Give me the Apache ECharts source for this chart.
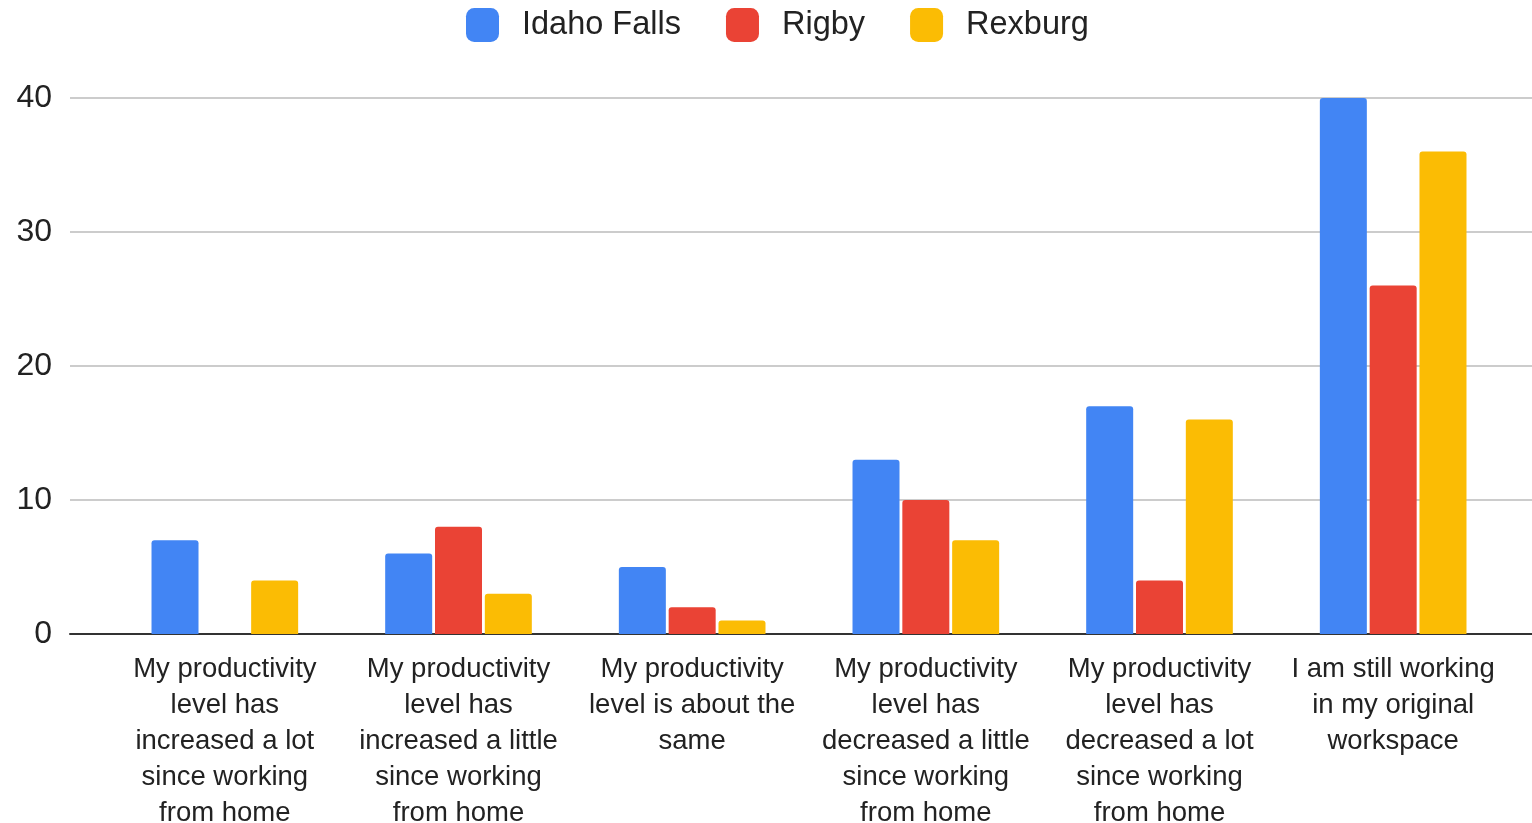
<!DOCTYPE html>
<html>
<head>
<meta charset="utf-8">
<script src="https://cdn.jsdelivr.net/npm/echarts@6/dist/echarts.min.js"></script>
<style>
  html, body { margin: 0; padding: 0; background: #fff; }
  #chart { width: 1532px; height: 823px; }
</style>
</head>
<body>
<div id="chart"></div>
<script>
// categories (answers) and values
const categories = [
  'My productivity\nlevel has\nincreased a lot\nsince working\nfrom home',
  'My productivity\nlevel has\nincreased a little\nsince working\nfrom home',
  'My productivity\nlevel is about the\nsame',
  'My productivity\nlevel has\ndecreased a little\nsince working\nfrom home',
  'My productivity\nlevel has\ndecreased a lot\nsince working\nfrom home',
  'I am still working\nin my original\nworkspace'
]
const idahoFalls = [7, 6, 5, 13, 17, 40]
const rigby = [0, 8, 2, 10, 4, 26]
const rexburg = [4, 3, 1, 7, 16, 36]
const yTicks = { min: 0, max: 40, interval: 10 }

const FONT = '"Liberation Sans", Arial, sans-serif'

const chart = echarts.init(document.getElementById('chart'))

function bar (name, data, color) {
  return {
    name: name,
    type: 'bar',
    xAxisIndex: 1,
    yAxisIndex: 1,
    data: data,
    barWidth: 47,
    barGap: '6%',
    itemStyle: { color: color, borderRadius: [3, 3, 0, 0] }
  }
}

chart.setOption({
  animation: false,
  textStyle: { fontFamily: FONT },
  legend: {
    top: 8,
    left: 466,
    padding: 0,
    itemWidth: 33,
    itemHeight: 34,
    itemGap: 45,
    icon: 'roundRect',
    textStyle: { fontSize: 32.5, color: '#222', fontFamily: FONT, padding: [0, 0, 0, 18] },
    data: ['Idaho Falls', 'Rigby', 'Rexburg']
  },
  grid: [
    // full width grid for the gridlines, the labels and the baseline
    { left: 70, right: 0, top: 98, bottom: 189, outerBoundsMode: 'none' },
    // inner grid for the bars, padded like the original
    { left: 108, right: 22, top: 98, bottom: 189, outerBoundsMode: 'none' }
  ],
  xAxis: [
    {
      gridIndex: 0,
      type: 'category',
      data: [''],
      axisLine: { lineStyle: { color: '#333', width: 2 } },
      axisTick: { show: false },
      axisLabel: { show: false }
    },
    {
      gridIndex: 1,
      type: 'category',
      data: categories,
      axisLine: { show: false },
      axisTick: { show: false },
      axisLabel: {
        interval: 0,
        margin: 17,
        fontSize: 27.5,
        lineHeight: 36,
        color: '#222',
        fontFamily: FONT,
        align: 'center'
      }
    }
  ],
  yAxis: [
    {
      gridIndex: 0,
      type: 'value',
      min: yTicks.min,
      max: yTicks.max,
      interval: yTicks.interval,
      axisLine: { show: false },
      axisTick: { show: false },
      axisLabel: { fontSize: 32, color: '#222', margin: 18, fontFamily: FONT },
      splitLine: { lineStyle: { color: '#ccc', width: 2 } }
    },
    {
      gridIndex: 1,
      type: 'value',
      min: yTicks.min,
      max: yTicks.max,
      interval: yTicks.interval,
      show: false,
      splitLine: { show: false }
    }
  ],
  series: [
    bar('Idaho Falls', idahoFalls, '#4285F4'),
    bar('Rigby', rigby, '#EA4335'),
    bar('Rexburg', rexburg, '#FBBC04')
  ]
})
</script>
</body>
</html>
